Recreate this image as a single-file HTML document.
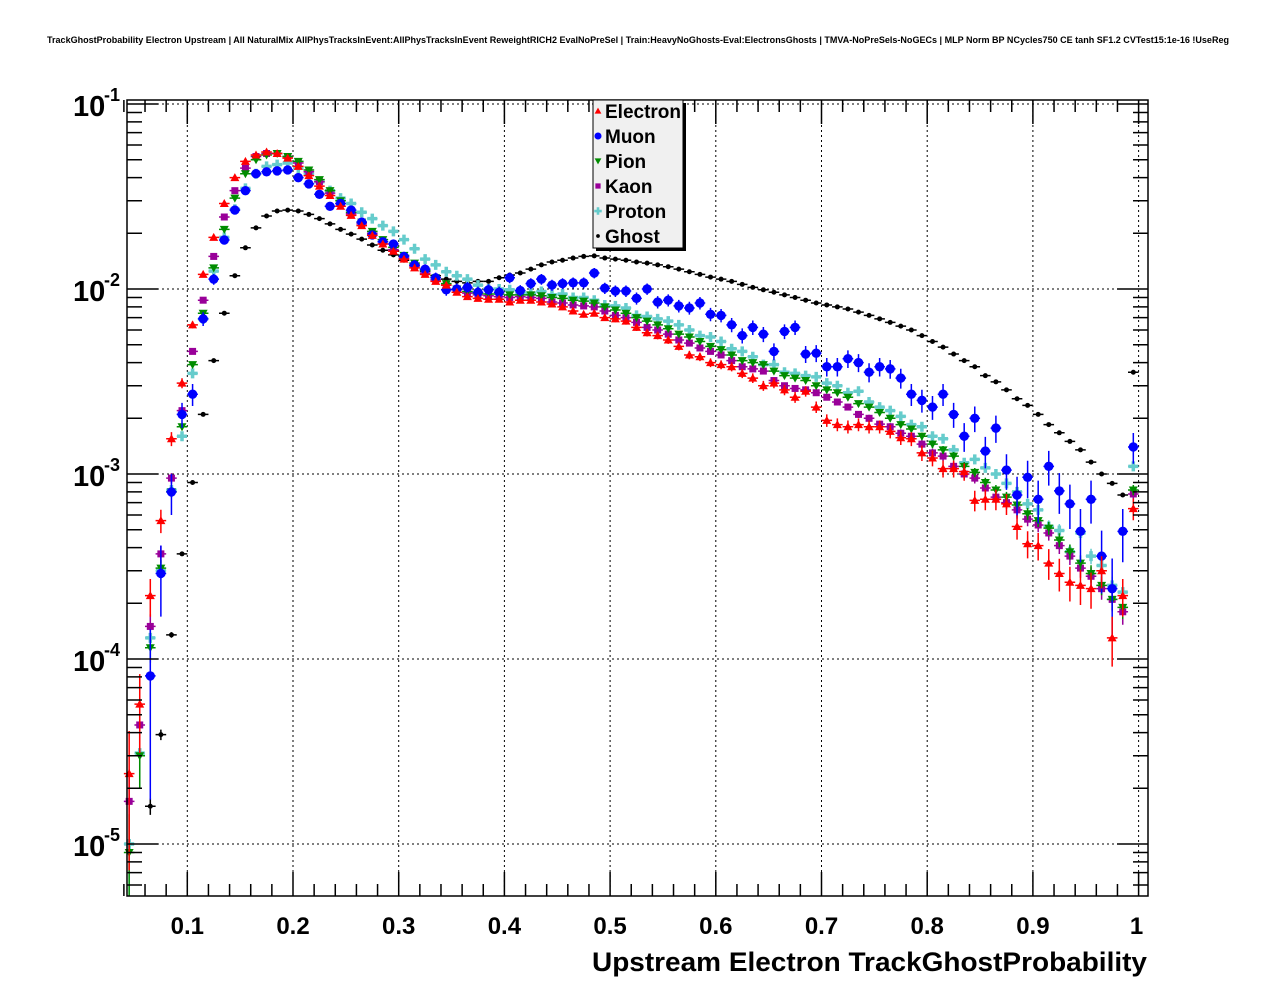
<!DOCTYPE html>
<html><head><meta charset="utf-8"><style>
html,body{margin:0;padding:0;background:#fff;}
svg{display:block;font-family:"Liberation Sans",sans-serif;}
</style></head><body>
<svg id="chart" width="1276" height="996" viewBox="0 0 1276 996" xmlns="http://www.w3.org/2000/svg">
<rect x="0" y="0" width="1276" height="996" fill="#ffffff"/>
<text x="638" y="43" font-size="9" font-weight="bold" text-anchor="middle" textLength="1182" lengthAdjust="spacingAndGlyphs">TrackGhostProbability Electron Upstream | All NaturalMix AllPhysTracksInEvent:AllPhysTracksInEvent ReweightRICH2 EvalNoPreSel | Train:HeavyNoGhosts-Eval:ElectronsGhosts | TMVA-NoPreSels-NoGECs | MLP Norm BP NCycles750 CE tanh SF1.2 CVTest15:1e-16 !UseReg</text>
<g id="grid"></g>
<g id="marks"></g>
<g id="axes"></g>
<g id="legend"></g>
<text x="1147" y="971" font-size="27" font-weight="bold" text-anchor="end" textLength="555" lengthAdjust="spacingAndGlyphs">Upstream Electron TrackGhostProbability</text>
</svg>
<script>
const binCenters = [];
for (let i = 0; i < 96; i++) binCenters.push(+(0.045 + 0.01 * i).toFixed(3));
const seriesNames = ["Electron","Muon","Pion","Kaon","Proton","Ghost"];
const electron = [2.4e-5,5.7e-5,2.2e-4,5.6e-4,1.55e-3,3.1e-3,6.4e-3,1.2e-2,1.9e-2,2.9e-2,
4.0e-2,4.9e-2,5.3e-2,5.5e-2,5.4e-2,5.1e-2,4.6e-2,4.1e-2,3.6e-2,3.2e-2,
2.8e-2,2.5e-2,2.2e-2,1.95e-2,1.75e-2,1.6e-2,1.45e-2,1.3e-2,1.2e-2,1.1e-2,
1.05e-2,9.6e-3,9.1e-3,8.9e-3,8.8e-3,8.8e-3,8.5e-3,8.7e-3,8.7e-3,8.5e-3,
8.3e-3,8.0e-3,7.6e-3,7.3e-3,7.4e-3,7.0e-3,6.9e-3,6.7e-3,6.2e-3,5.8e-3,
5.6e-3,5.3e-3,4.9e-3,4.4e-3,4.3e-3,4.0e-3,3.9e-3,3.8e-3,3.5e-3,3.3e-3,
3.0e-3,3.1e-3,2.85e-3,2.6e-3,2.8e-3,2.3e-3,1.95e-3,1.85e-3,1.8e-3,1.85e-3,
1.8e-3,1.8e-3,1.7e-3,1.57e-3,1.55e-3,1.3e-3,1.22e-3,1.07e-3,1.07e-3,1.03e-3,
7.2e-4,7.3e-4,7.3e-4,6.9e-4,5.2e-4,4.2e-4,4.1e-4,3.3e-4,2.9e-4,2.6e-4,
2.5e-4,2.4e-4,3.0e-4,1.3e-4,2.2e-4,6.5e-4];
const muon = [0,0,8.1e-5,2.9e-4,8.0e-4,2.1e-3,2.7e-3,6.9e-3,1.13e-2,1.84e-2,
2.67e-2,3.4e-2,4.2e-2,4.3e-2,4.35e-2,4.4e-2,4.0e-2,3.7e-2,3.25e-2,2.8e-2,
2.9e-2,2.67e-2,2.3e-2,1.96e-2,1.8e-2,1.75e-2,1.5e-2,1.35e-2,1.28e-2,1.15e-2,
9.9e-3,1.0e-2,1.02e-2,9.6e-3,9.9e-3,9.6e-3,1.15e-2,9.8e-3,1.07e-2,1.13e-2,
1.05e-2,1.07e-2,1.08e-2,1.08e-2,1.22e-2,1.01e-2,9.75e-3,9.75e-3,8.9e-3,1.0e-2,
8.5e-3,8.7e-3,8.1e-3,7.9e-3,8.4e-3,7.3e-3,7.2e-3,6.4e-3,5.6e-3,6.2e-3,
5.7e-3,4.6e-3,5.9e-3,6.2e-3,4.45e-3,4.5e-3,3.8e-3,3.8e-3,4.2e-3,4.0e-3,
3.55e-3,3.8e-3,3.7e-3,3.3e-3,2.7e-3,2.5e-3,2.3e-3,2.7e-3,2.1e-3,1.6e-3,
2.0e-3,1.33e-3,1.77e-3,1.05e-3,7.7e-4,9.6e-4,7.3e-4,1.1e-3,8.1e-4,6.9e-4,
4.9e-4,7.3e-4,3.6e-4,2.4e-4,4.9e-4,1.4e-3];
const pion = [9e-6,3e-5,1.15e-4,3.1e-4,8e-4,1.8e-3,3.9e-3,7.4e-3,1.3e-2,2.1e-2,
3.1e-2,4.2e-2,5.0e-2,5.3e-2,5.4e-2,5.2e-2,4.9e-2,4.4e-2,3.9e-2,3.4e-2,
3.0e-2,2.6e-2,2.3e-2,2.05e-2,1.85e-2,1.68e-2,1.52e-2,1.38e-2,1.26e-2,1.15e-2,
1.07e-2,1.0e-2,9.7e-3,9.5e-3,9.4e-3,9.4e-3,9.3e-3,9.3e-3,9.3e-3,9.2e-3,
9.0e-3,8.9e-3,8.7e-3,8.6e-3,8.4e-3,8.0e-3,7.7e-3,7.4e-3,7.0e-3,6.7e-3,
6.4e-3,6.1e-3,5.7e-3,5.5e-3,5.2e-3,4.9e-3,4.7e-3,4.4e-3,4.1e-3,4.0e-3,
3.9e-3,3.6e-3,3.4e-3,3.3e-3,3.2e-3,3.0e-3,2.85e-3,2.75e-3,2.6e-3,2.4e-3,
2.3e-3,2.15e-3,2.0e-3,1.85e-3,1.75e-3,1.6e-3,1.45e-3,1.35e-3,1.25e-3,1.1e-3,
1.02e-3,9.0e-4,8.2e-4,7.5e-4,6.8e-4,6.1e-4,5.6e-4,5.1e-4,4.4e-4,3.8e-4,
3.3e-4,2.9e-4,2.5e-4,2.1e-4,1.9e-4,8.2e-4];
const kaon = [1.7e-5,4.4e-5,1.5e-4,3.7e-4,9.5e-4,2.2e-3,4.6e-3,8.7e-3,1.5e-2,2.45e-2,
3.4e-2,4.5e-2,5.2e-2,5.4e-2,5.4e-2,5.2e-2,4.8e-2,4.3e-2,3.8e-2,3.3e-2,
2.9e-2,2.55e-2,2.25e-2,2.0e-2,1.8e-2,1.63e-2,1.47e-2,1.33e-2,1.22e-2,1.12e-2,
1.05e-2,9.9e-3,9.5e-3,9.3e-3,9.2e-3,9.1e-3,9.0e-3,9.1e-3,9.0e-3,8.9e-3,
8.5e-3,8.4e-3,8.2e-3,8.1e-3,8.0e-3,7.6e-3,7.2e-3,7.0e-3,6.6e-3,6.2e-3,
6.0e-3,5.7e-3,5.3e-3,5.1e-3,4.8e-3,4.6e-3,4.4e-3,4.1e-3,3.8e-3,3.7e-3,
3.6e-3,3.2e-3,3.0e-3,2.9e-3,2.85e-3,2.75e-3,2.6e-3,2.45e-3,2.3e-3,2.1e-3,
2.0e-3,1.86e-3,1.8e-3,1.66e-3,1.6e-3,1.45e-3,1.3e-3,1.25e-3,1.1e-3,1.0e-3,
9.5e-4,8.4e-4,7.5e-4,7.0e-4,6.4e-4,5.7e-4,5.3e-4,4.8e-4,4.1e-4,3.6e-4,
3.1e-4,2.8e-4,2.4e-4,2.1e-4,1.8e-4,7.8e-4];
const proton = [1.0e-5,3.1e-5,1.3e-4,3.0e-4,8.2e-4,1.6e-3,3.5e-3,6.9e-3,1.25e-2,1.9e-2,
2.7e-2,3.5e-2,4.2e-2,4.6e-2,4.7e-2,4.8e-2,4.5e-2,4.2e-2,3.8e-2,3.4e-2,
3.1e-2,2.9e-2,2.6e-2,2.4e-2,2.2e-2,2.05e-2,1.85e-2,1.65e-2,1.45e-2,1.35e-2,
1.24e-2,1.18e-2,1.13e-2,1.05e-2,1.0e-2,1.0e-2,9.9e-3,9.6e-3,9.5e-3,9.7e-3,
9.3e-3,9.4e-3,9.0e-3,9.0e-3,8.7e-3,8.2e-3,8.1e-3,7.9e-3,7.2e-3,7.1e-3,
6.9e-3,6.7e-3,6.4e-3,6.0e-3,5.6e-3,5.5e-3,5.2e-3,4.75e-3,4.6e-3,4.3e-3,
3.9e-3,3.9e-3,3.55e-3,3.5e-3,3.4e-3,3.35e-3,3.1e-3,3.0e-3,2.75e-3,2.8e-3,
2.45e-3,2.3e-3,2.2e-3,2.05e-3,1.85e-3,1.8e-3,1.6e-3,1.55e-3,1.35e-3,1.15e-3,
1.2e-3,1.08e-3,1.0e-3,8.9e-4,8.0e-4,6.9e-4,6.4e-4,5.2e-4,4.95e-4,3.8e-4,
4.8e-4,3.6e-4,3.2e-4,2.5e-4,2.3e-4,1.1e-3];
const ghost = [0,0,1.6e-5,3.9e-5,1.35e-4,3.7e-4,9.0e-4,2.1e-3,4.1e-3,7.4e-3,
1.18e-2,1.67e-2,2.14e-2,2.48e-2,2.64e-2,2.67e-2,2.64e-2,2.53e-2,2.4e-2,2.25e-2,
2.1e-2,1.98e-2,1.86e-2,1.73e-2,1.62e-2,1.53e-2,1.43e-2,1.34e-2,1.25e-2,1.18e-2,
1.13e-2,1.1e-2,1.08e-2,1.1e-2,1.1e-2,1.15e-2,1.19e-2,1.22e-2,1.28e-2,1.35e-2,
1.4e-2,1.43e-2,1.47e-2,1.5e-2,1.51e-2,1.47e-2,1.45e-2,1.43e-2,1.4e-2,1.38e-2,
1.35e-2,1.32e-2,1.28e-2,1.24e-2,1.2e-2,1.16e-2,1.13e-2,1.1e-2,1.06e-2,1.02e-2,
9.9e-3,9.6e-3,9.3e-3,9.0e-3,8.7e-3,8.4e-3,8.2e-3,8.0e-3,7.8e-3,7.5e-3,
7.2e-3,6.9e-3,6.6e-3,6.3e-3,6.0e-3,5.6e-3,5.2e-3,4.85e-3,4.45e-3,4.1e-3,
3.8e-3,3.4e-3,3.15e-3,2.85e-3,2.55e-3,2.35e-3,2.1e-3,1.85e-3,1.67e-3,1.5e-3,
1.35e-3,1.16e-3,1.0e-3,8.9e-4,7.7e-4,3.55e-3];
const sampleSizes = [8.5e4, 2e4, 3e5, 2.5e5, 3e5, 6e6];
const xTickLabels = ["0.1","0.2","0.3","0.4","0.5","0.6","0.7","0.8","0.9","1"];
const xTickValues = [0.1,0.2,0.3,0.4,0.5,0.6,0.7,0.8,0.9,1.0];
const yTickExponents = [-1,-2,-3,-4,-5];

const NS = "http://www.w3.org/2000/svg";
const L = 127, R = 1148, T = 100, B = 896;
function xs(v){ return 293 + (v - 0.2) * 1057; }
function ys(v){ return 289 - (Math.log10(v) + 2) * 185; }
function mk(tag, attrs, parent){
  const e = document.createElementNS(NS, tag);
  for (const k in attrs) e.setAttribute(k, attrs[k]);
  parent.appendChild(e);
  return e;
}
const grid = document.getElementById('grid');
const axes = document.getElementById('axes');
const marks = document.getElementById('marks');
const legend = document.getElementById('legend');

xTickValues.forEach(v => {
  const g = mk('line', {x1: xs(v), x2: xs(v), y1: T, y2: B, stroke: '#000', 'stroke-width': 1, 'stroke-dasharray': '2,3'}, grid);
  
  
});
yTickExponents.forEach(e => {
  const g = mk('line', {x1: L, x2: R, y1: ys(Math.pow(10, e)), y2: ys(Math.pow(10, e)), stroke: '#000', 'stroke-width': 1, 'stroke-dasharray': '2,3'}, grid);
  
  
});

const frame = mk('rect', {x: L, y: T, width: R - L, height: B - T, fill: 'none', stroke: '#000', 'stroke-width': 1.5}, axes);



let tp = '';
for (let k = 2; k <= 50; k++) {
  const v = k * 0.02;
  if (v < 0.04 || v > 1.009) continue;
  const x = xs(v);
  const major = Math.abs(v * 10 - Math.round(v * 10)) < 1e-6;
  const len = major ? 24 : 12;
  tp += `M${x},${B}v${-len}M${x},${T}v${len}`;
}
for (let e = -6; e <= -1; e++) {
  for (let m = 1; m <= 9; m++) {
    const v = m * Math.pow(10, e);
    const y = ys(v);
    if (y < T || y > B) continue;
    const len = m === 1 ? 31 : 15;
    tp += `M${L},${y}h${len}M${R},${y}h${-len}`;
  }
}
const ticks = mk('path', {d: tp, stroke: '#000', 'stroke-width': 1.5, fill: 'none'}, axes);



xTickValues.forEach((v, i) => {
  const t = mk('text', {x: xs(v) + (i === 9 ? -2 : 0), y: 934, 'font-size': 24, 'font-weight': 'bold', 'text-anchor': 'middle'}, axes);
  t.textContent = xTickLabels[i];
  
  
});
yTickExponents.forEach(e => {
  const y = ys(Math.pow(10, e));
  const t = mk('text', {x: 73, y: y + 12, 'font-size': 29, 'font-weight': 'bold'}, axes);
  t.textContent = '10';
  
  
  const s = mk('text', {x: 104, y: y - 3, 'font-size': 18, 'font-weight': 'bold'}, axes);
  s.textContent = String(e);
  
  
});

const colors = ['#ff0000', '#0000ff', '#008c00', '#990099', '#66cccc', '#000000'];
const allData = [electron, muon, pion, kaon, proton, ghost];

function marker(kind, x, y, col, parent, scale){
  const s = scale || 1;
  let el;
  if (kind === 0) el = mk('polygon', {points: `${x-4.5*s},${y+3.5*s} ${x+4.5*s},${y+3.5*s} ${x},${y-4.5*s}`, fill: col}, parent);
  else if (kind === 1) el = mk('circle', {cx: x, cy: y, r: 4.7 * s, fill: col}, parent);
  else if (kind === 2) el = mk('polygon', {points: `${x-4.5*s},${y-3.5*s} ${x+4.5*s},${y-3.5*s} ${x},${y+4.5*s}`, fill: col}, parent);
  else if (kind === 3) el = mk('rect', {x: x - 3.5 * s, y: y - 3.5 * s, width: 7 * s, height: 7 * s, fill: col}, parent);
  else if (kind === 4) el = mk('path', {d: `M${x-5*s},${y}h${10*s}M${x},${y-5*s}v${10*s}`, stroke: col, 'stroke-width': 3.5 * s}, parent);
  else el = mk('circle', {cx: x, cy: y, r: 2.5 * s, fill: col}, parent);
  return el;
}

const drawOrder = [5, 4, 3, 2, 1, 0];
drawOrder.forEach(si => {
  const g = mk('g', {}, marks);
  
  
  const data = allData[si];
  const col = colors[si];
  data.forEach((v, i) => {
    if (!(v > 0)) return;
    const x = xs(binCenters[i]);
    const y = ys(v);
    if (y > B + 10) return;
    const rel = 1 / Math.sqrt(v * sampleSizes[si]);
    const yHi = ys(v * (1 + rel));
    const yLo = Math.min(B, ys(Math.max(v * (1 - rel), 1e-7)));
    const eb = mk('path', {d: `M${x-5.3},${y}h10.6M${x},${yHi}V${yLo}`, stroke: col, 'stroke-width': 1.5, fill: 'none'}, g);
    
    
    const m = marker(si, x, y, col, g);
    
    
  });
});

const lg = mk('g', {}, legend);


mk('rect', {x: 596, y: 103, width: 90, height: 148, fill: '#000'}, lg);
const lbox = mk('rect', {x: 593, y: 100, width: 90, height: 148, fill: '#f0f0f0', stroke: '#000', 'stroke-width': 1}, lg);


seriesNames.forEach((n, i) => {
  const y = 111 + i * 25;
  const eg = mk('g', {}, lg);
  
  
  marker(i, 598, y, colors[i], eg, 0.75);
  const t = mk('text', {x: 605, y: y + 7, 'font-size': 19, 'font-weight': 'bold'}, eg);
  t.textContent = n;
});
</script>
</body></html>
